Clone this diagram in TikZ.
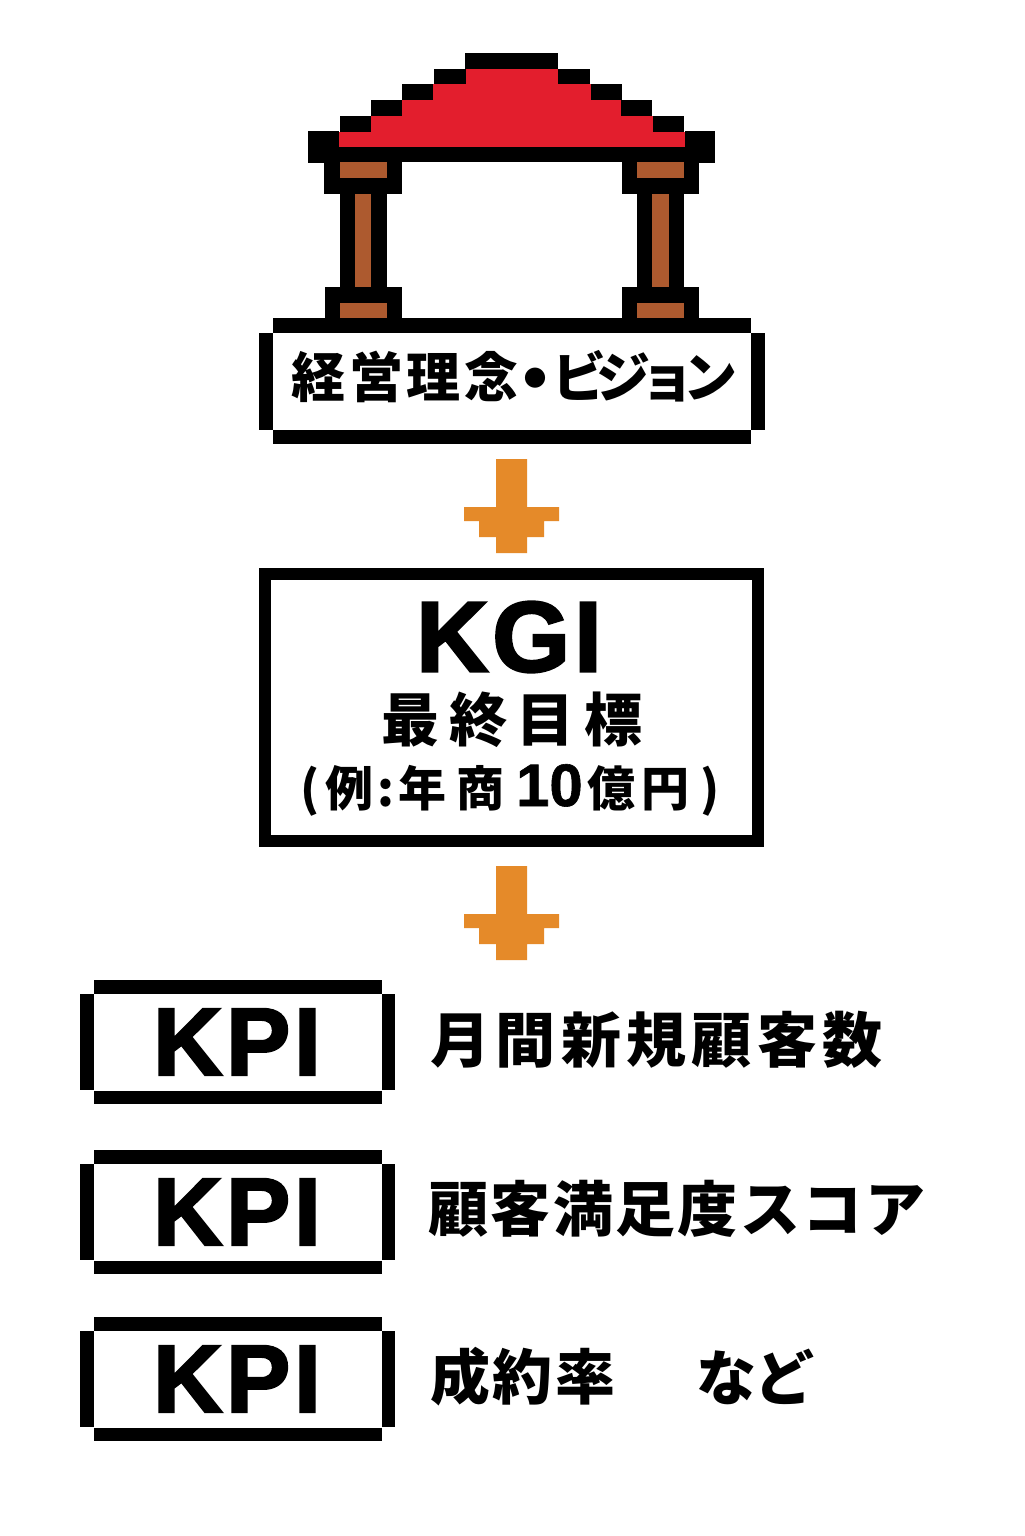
\documentclass[tikz,border=0pt]{standalone}
\usepackage{fontspec}
\setmainfont{Liberation Sans}
\newfontfamily\jpbold{Noto Sans CJK JP Black}
\newfontfamily\jpkanji[LetterSpace=7]{Noto Sans CJK JP Black}
\newfontfamily\jpkana[LetterSpace=-19]{Noto Sans CJK JP Black}
\newfontfamily\jpgoal[LetterSpace=17]{Noto Sans CJK JP Black}
\newfontfamily\jprowa[LetterSpace=9]{Noto Sans CJK JP Black}
\newfontfamily\jprowb[LetterSpace=4]{Noto Sans CJK JP Black}
\newfontfamily\jprowc[LetterSpace=-3]{Noto Sans CJK JP Black}
\newfontfamily\latinblack[FakeBold=2.5,LetterSpace=4]{Liberation Sans Bold}
\newfontfamily\latindigits[FakeBold=1]{Liberation Sans Bold}
\definecolor{roofred}{HTML}{E31E2D}
\definecolor{wood}{HTML}{AD5A2F}
\definecolor{arroworange}{HTML}{E58A29}
\newcommand{\cell}[2]{\makebox[#1pt][c]{#2}}
\tikzset{
  x=0.5pt,y=-0.5pt,
  px/.style={fill=black,draw=none},
  rf/.style={fill=roofred,draw=none},
  wd/.style={fill=wood,draw=none},
  lbl/.style={inner sep=0pt,text=black,anchor=center},
  boxlbl/.style={lbl,font=\latinblack\fontsize{48}{48}\selectfont},
  rowlbl/.style={lbl,anchor=west},
}
\newcommand{\kpibox}[2]{% top y, name
  \fill[px] (94,#1) rectangle (382,#1+14);
  \fill[px] (94,#1+111) rectangle (382,#1+124);
  \fill[px] (80,#1+14) rectangle (94,#1+110);
  \fill[px] (382,#1+14) rectangle (395,#1+110);
  \node[boxlbl] (#2) at (237,#1+62) {KPI};
}
\newcommand{\pixarrow}[1]{% shift y
  \fill[arroworange,yshift=-0.5pt*#1] (496,459) -- (527,459) -- (527,507) -- (559,507) -- (559,521) -- (544,521) -- (544,537) -- (527,537) -- (527,553) -- (496,553) -- (496,537) -- (479,537) -- (479,521) -- (464,521) -- (464,507) -- (496,507) -- cycle;
}
\begin{document}
\begin{tikzpicture}
\useasboundingbox[fill=white] (0,0) rectangle (1024,1536);
% roof outline
\fill[px] (465,53) rectangle (558,70);
\fill[px] (434,69) rectangle (466,85);
\fill[px] (558,69) rectangle (590,85);
\fill[px] (402,84) rectangle (433,101);
\fill[px] (590,84) rectangle (622,101);
\fill[px] (371,100) rectangle (402,117);
\fill[px] (621,100) rectangle (652,117);
\fill[px] (340,116) rectangle (371,133);
\fill[px] (653,116) rectangle (684,133);
\fill[px] (308,131) rectangle (339,163);
\fill[px] (685,131) rectangle (715,163);
\fill[px] (308,147) rectangle (715,162);
% roof fill
\fill[rf] (466,69) rectangle (558,85);
\fill[rf] (433,84) rectangle (591,101);
\fill[rf] (402,100) rectangle (621,117);
\fill[rf] (371,116) rectangle (653,133);
\fill[rf] (339,132) rectangle (685,147);
% capitals
\fill[px] (324,162) rectangle (402,194);
\fill[px] (622,162) rectangle (699,194);
\fill[wd] (340,162) rectangle (387,178);
\fill[wd] (637,162) rectangle (684,178);
% shafts
\fill[px] (340,194) rectangle (387,287);
\fill[px] (637,194) rectangle (684,287);
\fill[wd] (355,194) rectangle (371,287);
\fill[wd] (652,194) rectangle (669,287);
% bases
\fill[px] (325,287) rectangle (402,318);
\fill[px] (622,287) rectangle (699,318);
\fill[wd] (340,303) rectangle (387,318);
\fill[wd] (637,303) rectangle (684,318);
% vision box
\fill[px] (273,318) rectangle (751,333);
\fill[px] (273,430) rectangle (751,444);
\fill[px] (259,333) rectangle (273,430);
\fill[px] (751,333) rectangle (765,430);
\node[lbl,anchor=west,font=\fontsize{27}{27}\selectfont] (vision) at (291,378) {{\jpkanji 経営理念}\cell{17}{\raisebox{-4pt}{\jpbold\fontsize{36}{36}\selectfont ・}}{\jpkana ビジョン}};
% arrows
\pixarrow{0}
\pixarrow{407}
% KGI box
\node[draw=black,line width=6pt,minimum width=246.5pt,minimum height=133.5pt,inner sep=0pt] (kgibox) at (511.5,707.5) {};
\node[lbl,font=\latinblack\fontsize{50}{50}\selectfont] (kgi) at (509,637) {KGI};
\node[lbl,font=\jpgoal\fontsize{29}{29}\selectfont] (goal) at (512,720) {最終目標};
\node[lbl,anchor=west,font=\jpbold\fontsize{24}{24}\selectfont] (example) at (300,790) {\cell{10}{(}\cell{29}{例}\cell{8}{:}\cell{28}{年}\cell{30}{商}\cell{39}{\latindigits\fontsize{30}{30}\selectfont 10}\cell{23}{億}\cell{31}{円}\cell{14}{)}};
% KPI boxes
\kpibox{980}{kpia}
\kpibox{1150}{kpib}
\kpibox{1317}{kpic}
\node[rowlbl,font=\jprowa\fontsize{30}{30}\selectfont] (ta) at (430,1040) {月間新規顧客数};
\node[rowlbl,font=\jprowb\fontsize{30}{30}\selectfont] (tb) at (428,1209) {顧客満足度スコア};
\node[rowlbl,font=\jprowb\fontsize{30}{30}\selectfont] (tc) at (430,1377) {成約率};
\node[rowlbl,font=\jprowc\fontsize{30}{30}\selectfont] (td) at (696,1377) {など};
\end{tikzpicture}
\end{document}
